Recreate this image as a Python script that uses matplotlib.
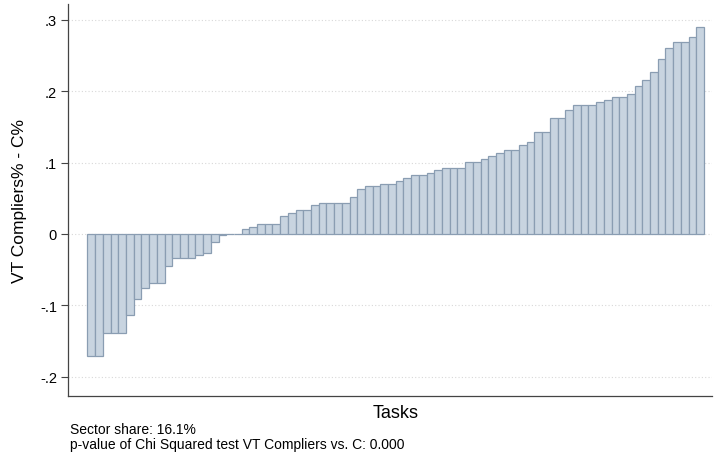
import matplotlib
matplotlib.use("Agg")
import matplotlib.pyplot as plt

# differences sorted from lowest to highest, one bar per task
neg_vals = [-0.170, -0.170, -0.139, -0.139, -0.139, -0.113, -0.091, -0.075,
            -0.068, -0.068, -0.045, -0.033, -0.033, -0.033, -0.029, -0.026,
            -0.011, -0.002]
zero_vals = [0.0, 0.0]
pos_vals = [0.007, 0.010, 0.014, 0.014, 0.014, 0.025, 0.029, 0.033, 0.033,
            0.041, 0.044, 0.044, 0.044, 0.044, 0.052, 0.063, 0.067, 0.067,
            0.070, 0.070, 0.074, 0.078, 0.082, 0.082, 0.086, 0.090, 0.093,
            0.093, 0.093, 0.101, 0.101, 0.105, 0.109, 0.113, 0.117, 0.117,
            0.124, 0.128, 0.143, 0.143, 0.162, 0.162, 0.174, 0.180, 0.180,
            0.180, 0.184, 0.188, 0.192, 0.192, 0.196, 0.207, 0.215, 0.226,
            0.245, 0.260, 0.268, 0.268, 0.275, 0.290]
values = neg_vals + zero_vals + pos_vals

yticks = [-0.2, -0.1, 0, 0.1, 0.2, 0.3]
ytick_labels = ["-.2", "-.1", "0", ".1", ".2", ".3"]

notes = ["Sector share: 16.1%",
         "p-value of Chi Squared test VT Compliers vs. C: 0.000"]

plt.rcParams['font.family'] = ['Liberation Sans', 'DejaVu Sans']

fig = plt.figure(figsize=(7.15, 4.56), dpi=100)
ax = fig.add_axes([68 / 715, 1 - 397 / 456, (712 - 68) / 715, (397 - 5) / 456])

x = list(range(len(values)))
ax.bar(x, values, width=1.0, color="#c8d4e0", edgecolor="#8a9db2",
       linewidth=0.9, zorder=3)

ax.set_xlim(-3.03, 80.54)
ax.set_ylim(-0.2266, 0.3217)
ax.set_yticks(yticks)
ax.set_yticklabels(ytick_labels)
ax.set_xticks([])
ax.tick_params(axis="y", labelsize=10.5, length=5, width=0.8,
               color="#444444", pad=3)
ax.grid(axis="y", linestyle=(0, (1, 2)), color="#d8d8d8", linewidth=0.8,
        zorder=0)

for side in ["top", "right"]:
    ax.spines[side].set_visible(False)
for side in ["left", "bottom"]:
    ax.spines[side].set_color("#444444")
    ax.spines[side].set_linewidth(0.9)

ax.set_ylabel("VT Compliers% - C%", fontsize=12.5, labelpad=9)
ax.set_xlabel("Tasks", fontsize=13, labelpad=5)
ax.xaxis.set_label_coords(0.508, -0.02, transform=ax.transAxes)
ax.xaxis.label.set_va("top")

# the two note lines under the plot
fig.text(70 / 715, 1 - 430 / 456, notes[0], fontsize=10, va="center")
fig.text(70 / 715, 1 - 445 / 456, notes[1], fontsize=10, va="center")

fig.savefig("out.png", dpi=100)
